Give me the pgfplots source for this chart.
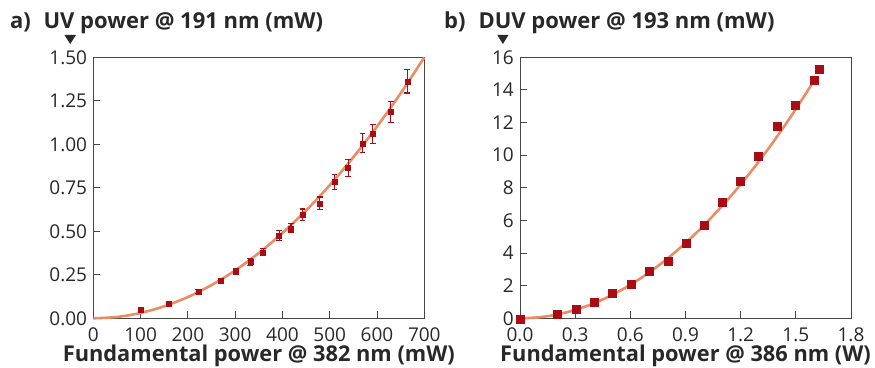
\documentclass[border=0pt]{standalone}
\usepackage{pgfplots}
\pgfplotsset{compat=1.18}
\usepackage{fontspec}
\setmainfont{Open Sans}
\definecolor{mk}{RGB}{170,12,22}
\definecolor{fit}{RGB}{234,140,102}
\definecolor{frame}{RGB}{70,70,70}
\definecolor{txt}{RGB}{40,40,40}
\begin{document}
\begin{tikzpicture}
\useasboundingbox (0pt,0pt) rectangle (875pt,367pt);
\pgfplotsset{
 myax/.style={
  anchor=south west, scale only axis, width=331pt, height=261pt,
  axis line style={frame, line width=1pt},
  tick align=inside, xtick pos=bottom, ytick pos=left,
  major tick length=7pt,
  tick style={frame, line width=1pt},
  ticklabel style={font=\fontsize{19}{22}\selectfont, text=txt, inner sep=1pt},
  xticklabel style={yshift=-8pt},
  yticklabel style={xshift=-5pt},
  /pgf/number format/assume math mode=true,
  clip=false,
  xlabel style={font=\bfseries\fontsize{21.8}{25}\selectfont, text=txt, at={(rel axis cs:0.5,0)}, anchor=base, yshift=-43.5pt},
 }
}
% ---------------- panel a ----------------
\begin{axis}[myax, at={(93.3pt,48.7pt)},
  xmin=0, xmax=700, ymin=0, ymax=1.5,
  xtick={0,100,200,300,400,500,600,700},
  ytick={0,0.25,0.5,0.75,1,1.25,1.5},
  yticklabel style={/pgf/number format/.cd, fixed, fixed zerofill, precision=2},
  xlabel={Fundamental power @ 382 nm (mW)}]
\addplot[fit, line width=2.6pt, smooth] coordinates {
 (0,0) (50,0.0077) (100,0.0306) (150,0.069) (200,0.122) (250,0.191) (300,0.275)
 (350,0.375) (400,0.490) (450,0.620) (500,0.765) (550,0.926) (600,1.102)
 (650,1.293) (700,1.5)};
\addplot[only marks, mark=square*, mark size=2.5pt, color=mk,
  error bars/.cd, y dir=both, y explicit,
  error bar style={line width=1.1pt, mk},
  error mark options={rotate=90, mark size=2.8pt, line width=1.1pt, mk}]
 table[x=x, y=y, y error=e] {
 x y e
 100 0.047 0.008
 159 0.086 0.008
 222 0.155 0.010
 269 0.214 0.012
 302 0.268 0.017
 332 0.324 0.018
 359 0.379 0.020
 393 0.475 0.028
 418 0.517 0.026
 442 0.594 0.034
 479 0.661 0.036
 510 0.783 0.043
 539 0.864 0.048
 569 1.006 0.054
 591 1.059 0.056
 629 1.186 0.060
 664 1.362 0.067
};
\end{axis}
% ---------------- panel b ----------------
\begin{axis}[myax, at={(520pt,48.7pt)},
  xmin=0, xmax=1.8, ymin=0, ymax=16,
  xtick={0,0.3,0.6,0.9,1.2,1.5,1.8},
  ytick={0,2,4,6,8,10,12,14,16},
  xticklabel style={/pgf/number format/.cd, fixed, fixed zerofill, precision=1},
  xlabel={Fundamental power @ 386 nm (W)}]
\addplot[fit, line width=2.6pt, smooth] coordinates {
 (0,0) (0.1,0.057) (0.2,0.228) (0.3,0.513) (0.4,0.912) (0.5,1.425) (0.6,2.052)
 (0.7,2.793) (0.8,3.648) (0.9,4.617) (1.0,5.70) (1.1,6.897) (1.2,8.208)
 (1.3,9.633) (1.4,11.172) (1.5,12.825) (1.59,14.41)};
\addplot[only marks, mark=square*, mark size=4pt, color=mk] table {
 x y
 0.000 -0.05
 0.201 0.25
 0.303 0.55
 0.402 0.96
 0.500 1.51
 0.603 2.06
 0.701 2.90
 0.804 3.53
 0.902 4.60
 1.000 5.68
 1.098 7.09
 1.200 8.38
 1.297 9.91
 1.400 11.75
 1.498 13.04
 1.601 14.57
 1.629 15.30
};
\end{axis}
% ---------------- titles ----------------
\node[anchor=base west, inner sep=0pt, font=\bfseries\fontsize{22}{25}\selectfont, text=txt] at (10pt,338.7pt) {a)};
\node[anchor=base west, inner sep=0pt, font=\bfseries\fontsize{22}{25}\selectfont, text=txt] at (43.3pt,338.7pt) {UV power @ 191 nm (mW)};
\node[anchor=base west, inner sep=0pt, font=\bfseries\fontsize{22}{25}\selectfont, text=txt] at (444pt,338.7pt) {b)};
\node[anchor=base west, inner sep=0pt, font=\bfseries\fontsize{22}{25}\selectfont, text=txt] at (478.3pt,338.7pt) {DUV power @ 193 nm (mW)};
\fill[txt] (64.5pt,332pt) -- (76pt,332pt) -- (70.2pt,323pt) -- cycle;
\fill[txt] (497.3pt,332pt) -- (508.5pt,332pt) -- (502.9pt,323pt) -- cycle;
\end{tikzpicture}
\end{document}
